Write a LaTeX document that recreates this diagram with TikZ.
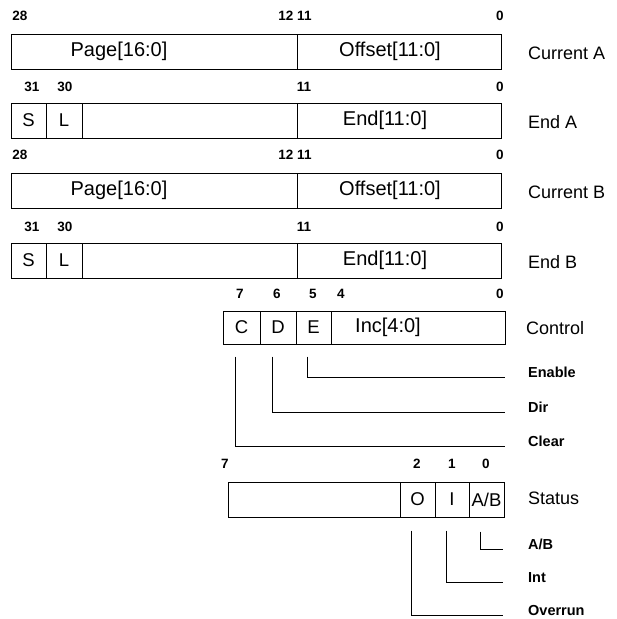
\documentclass[tikz,border=0pt]{standalone}
\usepackage{fontspec}
\setmainfont{Liberation Sans}
\usetikzlibrary{positioning}

\begin{document}
\begin{tikzpicture}[
    x=1pt, y=-1pt,
    fld/.style={draw, line width=1pt, inner sep=0pt, minimum height=35pt,
        font=\fontsize{18.5}{18.5}\selectfont},
    fldtext/.style={inner sep=0pt, font=\fontsize{20}{20}\selectfont},
    bitno/.style={inner sep=0pt, font=\bfseries\fontsize{13.5}{13.5}\selectfont},
    regname/.style={anchor=west, inner sep=0pt, font=\fontsize{18}{18}\selectfont},
    signame/.style={anchor=base west, inner sep=0pt, font=\bfseries\fontsize{14.5}{14.5}\selectfont},
    lead/.style={line width=1pt}
]
    \useasboundingbox (0,0) rectangle (617,619);

    % Current A / Current B
    \foreach \yy/\reg in {51.5/A, 190.5/B} {
        \node[fld, minimum width=286pt] (page\reg) at (154,\yy) {};
        \node[fld, minimum width=204pt] (off\reg) at (399,\yy) {};
        \node[fldtext] (paget\reg) at (119,\yy) {Page[16:0]};
        \node[fldtext] (offt\reg) at (390,\yy) {Offset[11:0]};
        \node[regname] (cur\reg) at (528,\yy+1.5) {Current \reg};
        \node[bitno] (bA\reg) at (20,\yy-35.5) {28};
        \node[bitno] (bB\reg) at (295,\yy-35.5) {12 11};
        \node[bitno] (bC\reg) at (500,\yy-35.5) {0};
    }

    % End A / End B
    \foreach \yy/\reg in {120.5/A, 260.5/B} {
        \node[fld, minimum width=35pt] (s\reg) at (28.5,\yy) {S};
        \node[fld, minimum width=36pt] (l\reg) at (64,\yy) {L};
        \node[fld, minimum width=215pt] (gap\reg) at (189.5,\yy) {};
        \node[fld, minimum width=204pt] (end\reg) at (399,\yy) {};
        \node[fldtext] (endt\reg) at (385,\yy) {End[11:0]};
        \node[regname] (endn\reg) at (528,\yy+1.5) {End \reg};
        \node[bitno] (eA\reg) at (32,\yy-33.5) {31};
        \node[bitno] (eB\reg) at (65,\yy-33.5) {30};
        \node[bitno] (eC\reg) at (304,\yy-33.5) {11};
        \node[bitno] (eD\reg) at (500,\yy-33.5) {0};
    }

    % Control
    \node[fld, minimum width=37pt, minimum height=33pt] (cC) at (241.5,327.5) {C};
    \node[fld, minimum width=36pt, minimum height=33pt] (cD) at (278,327.5) {D};
    \node[fld, minimum width=35pt, minimum height=33pt] (cE) at (313.5,327.5) {E};
    \node[fld, minimum width=174pt, minimum height=33pt] (cInc) at (418,327.5) {};
    \node[fldtext] (cInct) at (388,327.5) {Inc[4:0]};
    \node[regname] (control) at (526,328.5) {Control};
    \foreach \xx/\bit in {240/7, 277/6, 313/5, 341/4, 500/0}
        \node[bitno] (c\bit) at (\xx,294) {\bit};

    \node[signame] (enable) at (528,377) {Enable};
    \node[signame] (dir) at (528,412) {Dir};
    \node[signame] (clear) at (528,446) {Clear};
    \draw[lead] ([xshift=-6pt,yshift=-12pt]cE.south) |- ([xshift=-23pt]enable.base west);
    \draw[lead] ([xshift=-6pt,yshift=-12pt]cD.south) |- ([xshift=-23pt]dir.base west);
    \draw[lead] ([xshift=-6pt,yshift=-12pt]cC.south) |- ([xshift=-23pt]clear.base west);

    % Status
    \node[fld, minimum width=172pt] (sGap) at (314,499.5) {};
    \node[fld, minimum width=35pt] (sO) at (417.5,499.5) {O};
    \node[fld, minimum width=34pt] (sI) at (452,499.5) {I};
    \node[fld, minimum width=35pt] (sAB) at (486.5,499.5) {A/B};
    \node[regname] (status) at (528,498.5) {Status};
    \foreach \xx/\bit in {225/7, 417/2, 452/1, 486/0}
        \node[bitno] (s\bit) at (\xx,464) {\bit};

    \node[signame] (ab) at (528,549) {A/B};
    \node[signame] (int) at (528,582) {Int};
    \node[signame] (overrun) at (528,615) {Overrun};
    \draw[lead] ([xshift=-6pt,yshift=-14pt]sAB.south) |- ([xshift=-25pt]ab.base west);
    \draw[lead] ([xshift=-6pt,yshift=-13pt]sI.south) |- ([xshift=-25pt]int.base west);
    \draw[lead] ([xshift=-6pt,yshift=-13pt]sO.south) |- ([xshift=-25pt]overrun.base west);
\end{tikzpicture}
\end{document}
